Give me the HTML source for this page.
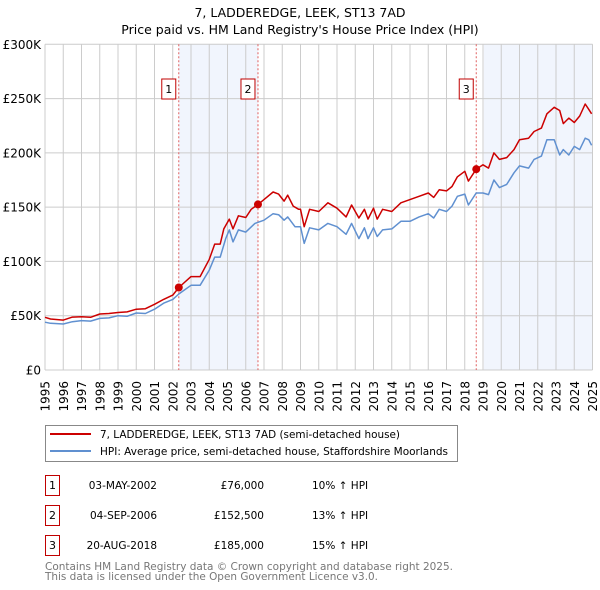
<!DOCTYPE html>
<html><head><meta charset="utf-8"><style>
body{margin:0;background:#fff;width:600px;height:590px;overflow:hidden;font-family:"DejaVu Sans","Liberation Sans",sans-serif}
svg{position:absolute;left:0;top:0}
</style></head><body>
<svg id="c" width="600" height="590" xmlns="http://www.w3.org/2000/svg"></svg>
<script>
const yTicks=[0,50,100,150,200,250,300];
const yTickLabels=["£0","£50K","£100K","£150K","£200K","£250K","£300K"];
const years=[1995,1996,1997,1998,1999,2000,2001,2002,2003,2004,2005,2006,2007,2008,2009,2010,2011,2012,2013,2014,2015,2016,2017,2018,2019,2020,2021,2022,2023,2024,2025];
const redT=[1995,1995.3,1996,1996.5,1997,1997.5,1998,1998.5,1999,1999.5,2000,2000.5,2001,2001.5,2002,2002.33,2003,2003.5,2004,2004.3,2004.6,2004.8,2005.1,2005.3,2005.6,2006,2006.3,2006.67,2007,2007.5,2007.8,2008.1,2008.3,2008.6,2008.9,2009.0,2009.2,2009.5,2010,2010.5,2011,2011.5,2011.8,2012.2,2012.5,2012.7,2013,2013.2,2013.5,2014,2014.5,2015,2015.5,2016,2016.3,2016.6,2017,2017.3,2017.6,2018,2018.2,2018.63,2019,2019.3,2019.6,2019.9,2020.3,2020.7,2021,2021.5,2021.8,2022.2,2022.5,2022.9,2023.2,2023.4,2023.7,2024,2024.3,2024.6,2024.8,2024.95];
const redV=[48.5,47,46,48.7,49,48.5,51.6,52,53,53.5,56,56.5,60.5,65,69,76,86,86,102,116,116,130,139,130,142,140.5,148,152.5,157,164,162,155.6,161,151,148,148,132,148,146,154,149,141,152,140,148,139,149,139,148,146,154,157,160,163,159,166,165,169,178,183,174,185,189,186,200,194,195.6,203,212,213.5,219.7,222.8,236,242,239,227,232,228,234,245,240,236];
const blueT=[1995,1995.3,1996,1996.5,1997,1997.5,1998,1998.5,1999,1999.5,2000,2000.5,2001,2001.5,2002,2002.33,2003,2003.5,2004,2004.3,2004.6,2004.9,2005.1,2005.3,2005.6,2006,2006.5,2007,2007.5,2007.8,2008.1,2008.3,2008.7,2009.0,2009.2,2009.5,2010,2010.5,2011,2011.5,2011.8,2012.2,2012.5,2012.7,2013,2013.2,2013.5,2014,2014.5,2015,2015.5,2016,2016.3,2016.6,2017,2017.3,2017.6,2018,2018.2,2018.63,2019,2019.3,2019.6,2019.9,2020.3,2020.7,2021,2021.5,2021.8,2022.2,2022.5,2022.9,2023.2,2023.4,2023.7,2024,2024.3,2024.6,2024.8,2024.95];
const blueV=[44,43,42.4,44.5,45.5,45,47.5,48,50,49.5,52.5,52,56,61.5,65,70,78,78,92,104,104,121,129,118,129,127,135,138,144,143,138,141,132,132,116.6,131,129,135,132,125,135,121,131,121,131,123,129,130,137,137,141,144,140,148,146,151,160,162,152,163,163,161.6,175,168,171,181.6,188,186,194,197,212,212,198,203,198,206,203,213.5,212,207];
const saleT=[2002.33,2006.67,2018.63];
const saleV=[76,152.5,185];
const saleLabels=["1","2","3"];

const NS="http://www.w3.org/2000/svg";
const svg=document.getElementById('c');
const X0=45,X1=592.5,Y0=370,Y1=44.3;
const xs=t=>X0+(t-1995)/30*(X1-X0);
const ys=v=>Y0-v/300*(Y0-Y1);
function el(tag,attrs,parent){const e=document.createElementNS(NS,tag);for(const k in attrs)e.setAttribute(k,attrs[k]);(parent||svg).appendChild(e);return e;}
function txt(s,attrs){const e=el('text',attrs);e.textContent=s;return e;}

let t=txt("7, LADDEREDGE, LEEK, ST13 7AD",{x:300,y:17,'text-anchor':'middle','font-size':12.5});


t=txt("Price paid vs. HM Land Registry's House Price Index (HPI)",{x:300,y:34,'text-anchor':'middle','font-size':12.5});



const shades=[[saleT[0],saleT[1]],[2019.05,2025]];
shades.forEach(s=>{const r=el('rect',{x:xs(s[0]),y:Y1,width:xs(s[1])-xs(s[0]),height:Y0-Y1,fill:'#eef3fc',opacity:0.8});

});

years.forEach((yr,i)=>{const g=el('line',{x1:xs(yr),x2:xs(yr),y1:Y1,y2:Y0,stroke:'#cccccc','stroke-width':1});


const lx=xs(yr)+4.5;
const l=txt(String(yr),{x:lx,y:381,'font-size':12,'text-anchor':'end',transform:'rotate(-90 '+lx+' 381)'});

});
yTicks.forEach((v,i)=>{const g=el('line',{x1:X0,x2:X1,y1:ys(v),y2:ys(v),stroke:'#cccccc','stroke-width':1});


const l=txt(yTickLabels[i],{x:41,y:ys(v)+4.5,'font-size':12,'text-anchor':'end'});

});

saleT.forEach((s,i)=>{const l=el('line',{x1:xs(s),x2:xs(s),y1:Y1,y2:Y0,stroke:'#e06060','stroke-width':1,'stroke-dasharray':'2,2'});


const b=el('rect',{x:xs(s)-17,y:79,width:14,height:20,fill:'#fff',stroke:'#c00000','stroke-width':1});


const tt=txt(saleLabels[i],{x:xs(s)-10,y:93,'font-size':11,'text-anchor':'middle'});

});

function path(T,V,color,name){const d=T.map((tt,i)=>(i?'L':'M')+xs(tt).toFixed(1)+','+ys(V[i]).toFixed(1)).join(' ');
const p=el('path',{d:d,fill:'none',stroke:color,'stroke-width':1.5,'stroke-linejoin':'round'});

}
path(blueT,blueV,'#6090d0','hpi-line');
path(redT,redV,'#cc0000','price-paid-line');
saleT.forEach((s,i)=>{const c=el('circle',{cx:xs(s),cy:ys(saleV[i]),r:4,fill:'#cc0000'});

});

const lg=el('rect',{x:45.5,y:425.5,width:412,height:36,fill:'#fff',stroke:'#888','stroke-width':1});


let ll=el('line',{x1:50,x2:91,y1:434,y2:434,stroke:'#cc0000','stroke-width':2});


ll=el('line',{x1:50,x2:91,y1:451,y2:451,stroke:'#6090d0','stroke-width':2});


t=txt("7, LADDEREDGE, LEEK, ST13 7AD (semi-detached house)",{x:100,y:438,'font-size':10.5,textLength:300,lengthAdjust:'spacingAndGlyphs'});


t=txt("HPI: Average price, semi-detached house, Staffordshire Moorlands",{x:100,y:455,'font-size':10.5,textLength:348,lengthAdjust:'spacingAndGlyphs'});



const rowDates=["03-MAY-2002","04-SEP-2006","20-AUG-2018"];
const rowPrices=["£76,000","£152,500","£185,000"];
const rowPcts=["10% ↑ HPI","13% ↑ HPI","15% ↑ HPI"];
rowDates.forEach((d,i)=>{const yy=483+i*30;
const b=el('rect',{x:45.5,y:yy-7.5,width:14,height:20,fill:'#fff',stroke:'#c00000','stroke-width':1});


let a=txt(saleLabels[i],{x:52.5,y:yy+6,'font-size':11,'text-anchor':'middle'});


a=txt(d,{x:157,y:yy+6,'font-size':10.5,'text-anchor':'end'});


a=txt(rowPrices[i],{x:264,y:yy+6,'font-size':10.5,'text-anchor':'end'});


a=txt(rowPcts[i],{x:312,y:yy+6,'font-size':10.5});

});

t=txt("Contains HM Land Registry data © Crown copyright and database right 2025.",{x:45,y:570,'font-size':10.5,fill:'#777',textLength:408,lengthAdjust:'spacingAndGlyphs'});


t=txt("This data is licensed under the Open Government Licence v3.0.",{x:45,y:580,'font-size':10.5,fill:'#777',textLength:333,lengthAdjust:'spacingAndGlyphs'});


</script>
</body></html>
